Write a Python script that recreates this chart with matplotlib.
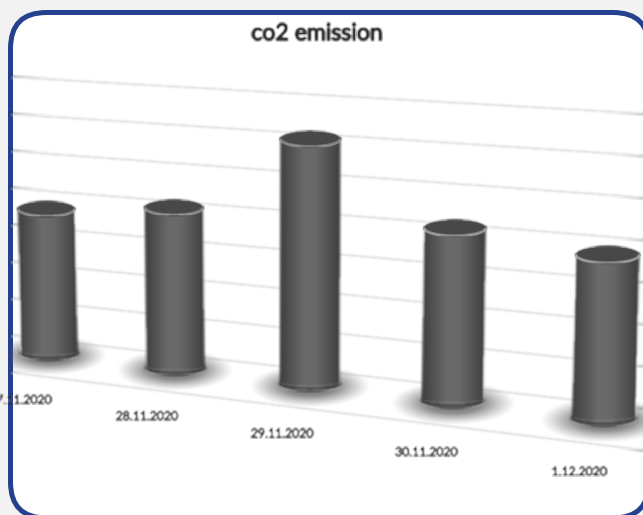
#!/usr/bin/env python3

import matplotlib
matplotlib.use('Agg')
import matplotlib.patheffects as pe
import matplotlib.pyplot as plt
import numpy as np
from matplotlib.colors import LinearSegmentedColormap
from matplotlib.patches import Ellipse, FancyBboxPatch, Polygon
from matplotlib.transforms import Transform

title = 'co2 emission'
dates = ['27.11.2020', '28.11.2020', '29.11.2020', '30.11.2020', '1.12.2020']
co2 = [3.88, 4.20, 6.23, 4.27, 3.93]
grid_levels = [0, 1, 2, 3, 4, 5, 6, 7, 8]

plt.rcParams['font.family'] = ['Lato', 'DejaVu Sans']


class Tilted(Transform):
    # (category, value) -> pixels, the chart is drawn in a slanted 3d view
    input_dims = output_dims = 2

    def transform_non_affine(self, values):
        t, v = np.asarray(values, dtype=float).T
        xb = 50 + 121.5 * t + 4.2 * t ** 2
        y = 373 + 0.1226 * (xb - 15) - v * depth_scale(xb)
        return np.column_stack([xb + v * 0.45 * (t - 1.8), y])


def depth_scale(x):
    return 37 + 5 * (x - 15) / 628


def blur(image, dpi, passes=2, size=3):
    pad = 8
    out = np.pad(image, ((pad, pad), (pad, pad), (0, 0)))
    kernel = np.ones(size) / size
    for _ in range(passes):
        out = np.apply_along_axis(np.convolve, 0, out, kernel, mode='same')
        out = np.apply_along_axis(np.convolve, 1, out, kernel, mode='same')
    return out, -pad, -pad


def soft(image, dpi):
    return blur(image, dpi, passes=1)


fig = plt.figure(figsize=(6.43, 5.15), dpi=100, facecolor='#f2f2f2')
ax = fig.add_axes([0, 0, 1, 1])
ax.set_xlim(0, 643)
ax.set_ylim(515, 0)
ax.axis('off')
proj = Tilted() + ax.transData

frame = FancyBboxPatch((10.5, 12.5), 638.5, 505.5, boxstyle='round,pad=0,rounding_size=36',
                       fc='white', ec='#24408e', lw=3.6, zorder=1)
ax.add_patch(frame)

for level in grid_levels:
    t = np.linspace(-0.6, 5, 60)
    line, = ax.plot(t, np.full_like(t, level), color='#c0c0c0', lw=1.2, transform=proj, zorder=2)
    line.set_clip_path(frame)
    line.set_agg_filter(blur)

body_cmap = LinearSegmentedColormap.from_list('body', ['#404040', '#565656', '#6c6c6c', '#686868', '#545454', '#3e3e3e'])
floor = 0.64
for i, value in enumerate(co2):
    (bx, by), (tx, ty) = Tilted().transform([(i, floor), (i, floor + value)])
    s = depth_scale(bx)
    hw, ry = 0.76 * s, 0.2 * s

    # shadow round the foot
    sx, sy = np.meshgrid(np.linspace(bx - 70, bx + 70, 141), np.linspace(by - 30, by + 38, 69))
    r = np.hypot((sx - bx) / (hw * 1.85), (sy - by - 2) / (ry * 2.5))
    alpha = np.clip((1.1 - r) / 0.6, 0, 1) ** 1.2 * 0.68
    rgba = np.zeros(r.shape + (4,))
    rgba[..., :3] = 0.33
    rgba[..., 3] = alpha
    shadow = ax.imshow(rgba, extent=(bx - 70, bx + 70, by + 38, by - 30), aspect='auto', zorder=3,
                       interpolation='bilinear')
    shadow.set_clip_path(frame)

    # cylinder wall
    a = np.linspace(np.pi, 0, 40)
    foot = np.column_stack([bx + hw * np.cos(a), by + ry * np.sin(a)])
    head = np.column_stack([tx + hw * np.cos(a[::-1]), ty - ry * np.sin(a[::-1])])
    wall = Polygon(np.vstack([foot, head]), closed=True, fc='none', ec='none', zorder=4)
    ax.add_patch(wall)
    shade = np.linspace(0, 1, 64).reshape(1, -1)
    left, right = min(bx, tx) - hw, max(bx, tx) + hw
    img = ax.imshow(shade, extent=(left, right, by + ry + 1, ty - ry - 1), aspect='auto', cmap=body_cmap,
                    zorder=4, interpolation='bilinear')
    img.set_clip_path(wall)
    img.set_agg_filter(blur)

    # dark band at the foot
    band, = ax.plot(bx + hw * np.cos(a), by + 0.55 * ry * np.sin(a), color='#333333', lw=2.5, alpha=0.5, zorder=5)
    band.set_clip_path(frame)
    band.set_agg_filter(blur)

    # top cap with its light rim
    cap = Ellipse((tx, ty), 2 * hw + 1, 2 * ry, fc='#484848', ec='none', zorder=5)
    ax.add_patch(cap)
    cap.set_clip_path(frame)
    cap.set_agg_filter(soft)
    rim, = ax.plot(tx + hw * np.cos(a), ty + ry * np.sin(a), color='#e0e0e0' if i > 2 else '#b0b0b0',
                   lw=0.9, zorder=6)
    rim.set_clip_path(frame)
    rim.set_agg_filter(soft)

    label = ax.text(i - 0.25 + 0.025 * i, -0.72, dates[i], transform=proj, ha='center', va='center',
                    fontsize=8.8, color='#2e2e2e', zorder=7,
                    path_effects=[pe.withStroke(linewidth=0.4, foreground='#2e2e2e')])
    label.set_clip_path(frame)
    label.set_agg_filter(soft)

ax.text(317, 33.5, title, ha='center', va='center', fontsize=16.6, color='#2b2b2b', zorder=7,
        path_effects=[pe.withStroke(linewidth=1.1, foreground='#2b2b2b')]).set_agg_filter(soft)

fig.savefig('out.png', dpi=100, facecolor=fig.get_facecolor())
